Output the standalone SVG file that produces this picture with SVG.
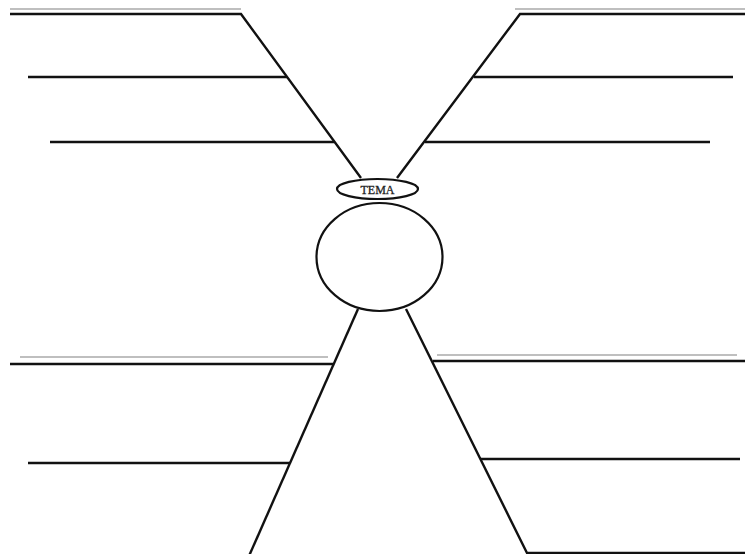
<svg xmlns="http://www.w3.org/2000/svg" width="745" height="554" viewBox="0 0 745 554">
<style>
.ln{stroke:#111;stroke-width:2.4;fill:none;stroke-linecap:butt;stroke-linejoin:miter}
.gr{stroke:#aaa;stroke-width:1.6;fill:none}
.nd{fill:#fff;stroke:#111;stroke-width:2.2}
.tx{font-family:"Liberation Serif",serif;font-size:12px;fill:#222;text-anchor:middle;stroke:#222;stroke-width:0.3}
</style>
<rect width="745" height="554" fill="#fff"/>
<g id="connectors">
<line class="gr" x1="10" y1="9" x2="241" y2="9"/>
<polyline class="ln" points="10,14 241,14 361,178"/>
<line class="ln" x1="28" y1="77" x2="287" y2="77"/>
<line class="ln" x1="50" y1="142" x2="334" y2="142"/>
<line class="gr" x1="515" y1="9" x2="745" y2="9"/>
<polyline class="ln" points="745,14 520,14 397,178"/>
<line class="ln" x1="474" y1="77" x2="733" y2="77"/>
<line class="ln" x1="425" y1="142" x2="710" y2="142"/>
<line class="gr" x1="20" y1="357" x2="328" y2="357"/>
<line class="ln" x1="10" y1="364" x2="333" y2="364"/>
<line class="ln" x1="358" y1="309" x2="249" y2="556"/>
<line class="ln" x1="28" y1="463" x2="290" y2="463"/>
<line class="gr" x1="437" y1="355" x2="737" y2="355"/>
<line class="ln" x1="433" y1="361" x2="745" y2="361"/>
<polyline class="ln" points="406,309 527,553 745,553"/>
<line class="ln" x1="480" y1="459" x2="740" y2="459"/>
</g>
<g id="tema">
<ellipse class="nd" cx="377.5" cy="189" rx="40.5" ry="10"/>
<text class="tx" x="377.5" y="193.5">TEMA</text>
</g>
<g id="circle">
<ellipse class="nd" cx="379.5" cy="257" rx="63" ry="54"/>
</g>
</svg>
